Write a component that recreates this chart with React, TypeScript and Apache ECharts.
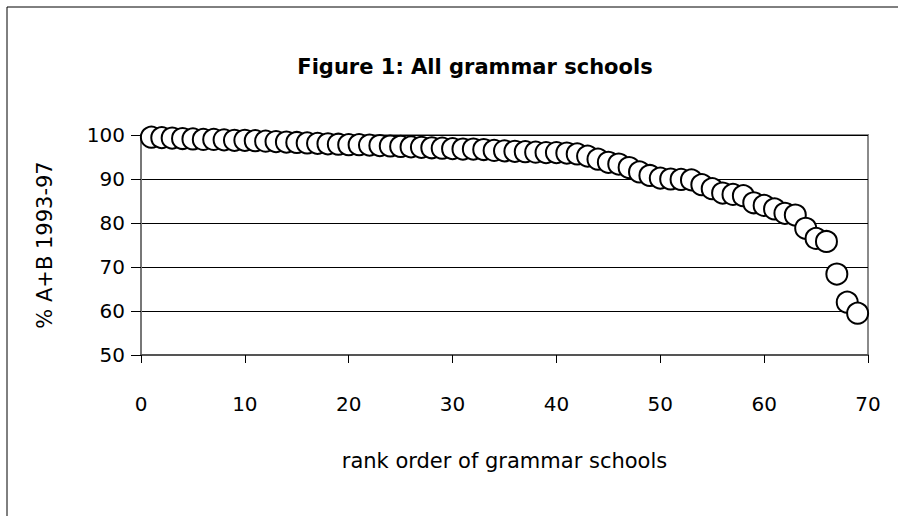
import React, { useEffect, useRef } from "react";
import * as echarts from "echarts";

const titleText = "Figure 1: All grammar schools";
const xAxisName = "rank order of grammar schools";
const yAxisName = "% A+B 1993-97";

// % A+B 1993-97 for each grammar school, in rank order (rank 1..69)
const schoolValues: number[] = [
  99.5, 99.4, 99.3, 99.2, 99.1, 99.0, 99.0, 98.9, 98.8, 98.8,
  98.7, 98.6, 98.5, 98.4, 98.3, 98.2, 98.1, 98.0, 97.9, 97.8,
  97.8, 97.7, 97.6, 97.5, 97.4, 97.3, 97.2, 97.1, 97.0, 96.9,
  96.8, 96.8, 96.7, 96.5, 96.4, 96.3, 96.2, 96.1, 96.0, 96.0,
  95.9, 95.7, 95.2, 94.5, 93.8, 93.4, 92.6, 91.6, 90.8, 90.2,
  90.0, 89.9, 89.8, 88.7, 87.8, 86.8, 86.5, 86.2, 84.6, 84.0,
  83.2, 82.2, 81.8, 78.8, 76.5, 75.8, 68.4, 62.0, 59.5,
];

const xTicks = { min: 0, max: 70, interval: 10 };
const yTicks = { min: 50, max: 100, interval: 10 };

const FONT = "DejaVu Sans";

export default function App() {
  const ref = useRef<HTMLDivElement>(null);

  useEffect(() => {
    document.body.style.margin = "0";
    if (!ref.current) return;
    const chart = echarts.init(ref.current, undefined, { renderer: "svg" });
    const data = schoolValues.map((v, i) => [i + 1, v]);
    chart.setOption({
      animation: false,
      backgroundColor: "#ffffff",
      title: {
        text: titleText,
        left: 470,
        top: 51,
        textAlign: "center",
        textStyle: { fontFamily: FONT, fontSize: 21, fontWeight: "bold", color: "#000" },
      },
      graphic: [
        { type: "line", shape: { x1: 7, y1: 7, x2: 898, y2: 7 }, style: { stroke: "#000", lineWidth: 1 } },
        { type: "line", shape: { x1: 7, y1: 7, x2: 7, y2: 516 }, style: { stroke: "#000", lineWidth: 1 } },
      ],
      grid: {
        left: 141,
        top: 135,
        right: 30,
        bottom: 161,
        show: true,
        borderColor: "#8a8a8a",
        borderWidth: 2,
        backgroundColor: "transparent",
      },
      xAxis: {
        type: "value",
        min: xTicks.min,
        max: xTicks.max,
        interval: xTicks.interval,
        name: xAxisName,
        nameLocation: "middle",
        nameGap: 95,
        nameTextStyle: { fontFamily: FONT, fontSize: 21, color: "#000" },
        axisLine: { show: true, onZero: false, lineStyle: { color: "#555", width: 2 } },
        axisTick: { show: true, inside: false, length: 8, lineStyle: { color: "#000" } },
        axisLabel: { margin: 39, fontFamily: FONT, fontSize: 20, color: "#000" },
        splitLine: { show: false },
      },
      yAxis: {
        type: "value",
        min: yTicks.min,
        max: yTicks.max,
        interval: yTicks.interval,
        name: yAxisName,
        nameLocation: "middle",
        nameGap: 86,
        nameRotate: 90,
        nameTextStyle: { fontFamily: FONT, fontSize: 21, color: "#000" },
        axisLine: { show: true, onZero: false, lineStyle: { color: "#777", width: 2 } },
        axisTick: { show: true, inside: false, length: 10, lineStyle: { color: "#000" } },
        axisLabel: { margin: 16, fontFamily: FONT, fontSize: 20, color: "#000" },
        splitLine: { show: true, lineStyle: { color: "#000", width: 1 } },
      },
      series: [
        {
          type: "scatter",
          data,
          symbol: "circle",
          symbolSize: 21,
          itemStyle: { color: "#fff", borderColor: "#000", borderWidth: 2, opacity: 1 },
          emphasis: { disabled: true },
        },
      ],
    });
    return () => chart.dispose();
  }, []);

  return (
    <div
      ref={ref}
      style={{ position: "absolute", left: 0, top: 0, width: 898, height: 516 }}
    />
  );
}
